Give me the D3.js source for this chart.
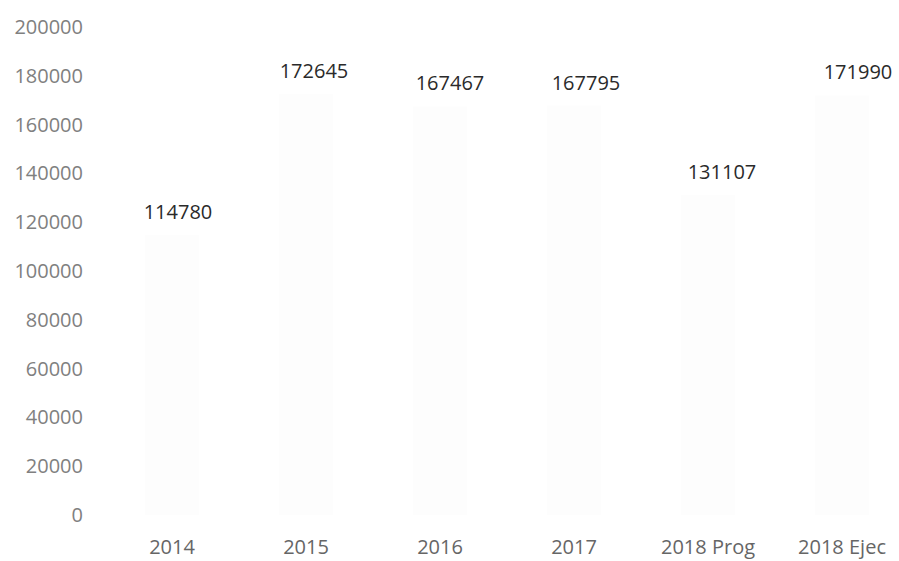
<!DOCTYPE html>
<html>
<head>
<meta charset="utf-8">
<script src="https://cdn.jsdelivr.net/npm/d3@7"></script>
<style>
  body { margin: 0; background: #fff; }
  text { font-family: "Open Sans", "Noto Sans", sans-serif; }
</style>
</head>
<body>
<div class="wrapper"></div>
<script>
// values
var categories = ["2014", "2015", "2016", "2017", "2018 Prog", "2018 Ejec"];
var values = [114780, 172645, 167467, 167795, 131107, 171990];
var yTicks = [0, 20000, 40000, 60000, 80000, 100000, 120000, 140000, 160000, 180000, 200000];

var width = 899,
    height = 561;

var svg = d3.select(".wrapper").append("svg")
    .attr("width", width)
    .attr("height", height);

var x = d3.scaleBand()
    .domain(categories)
    .range([105, 909])
    .paddingInner(0.6)
    .paddingOuter(0.3);

var y = d3.scaleLinear()
    .domain([0, 200000])
    .range([515, 27]);

// y axis, labels only
var yAxis = d3.axisLeft(y)
    .tickValues(yTicks)
    .tickSize(0)
    .tickPadding(0)
    .tickFormat(d3.format("d"));

svg.append("g")
    .attr("transform", "translate(83,0)")
    .call(yAxis)
    .call(function(g) { g.select(".domain").remove(); })
    .selectAll("text")
      .attr("font-size", 20)
      .attr("fill", "#808080")
      .style("font-family", "'Open Sans', sans-serif");

// x axis, labels only
var xAxis = d3.axisBottom(x)
    .tickSize(0)
    .tickPadding(0);

svg.append("g")
    .attr("transform", "translate(0,540)")
    .call(xAxis)
    .call(function(g) { g.select(".domain").remove(); })
    .selectAll("text")
      .attr("font-size", 20)
      .attr("fill", "#666")
      .style("font-family", "'Open Sans', sans-serif");

// bars are almost white in the scan
svg.selectAll("rect.bar")
    .data(values)
  .enter().append("rect")
    .attr("class", "bar")
    .attr("x", function(d, i) { return x(categories[i]); })
    .attr("width", x.bandwidth())
    .attr("y", function(d) { return y(d); })
    .attr("height", function(d) { return y(0) - y(d); })
    .attr("fill", "#fdfdfd");

// value labels above each bar
svg.selectAll("text.value")
    .data(values)
  .enter().append("text")
    .attr("class", "value")
    .attr("x", function(d, i) { return x(categories[i]) + x.bandwidth() / 2 + 6 + i * 2; })
    .attr("y", function(d) { return y(d) - 16; })
    .attr("text-anchor", "middle")
    .attr("font-size", 20)
    .attr("fill", "#2a2a2a")
    .text(function(d) { return d; });
</script>
</body>
</html>
